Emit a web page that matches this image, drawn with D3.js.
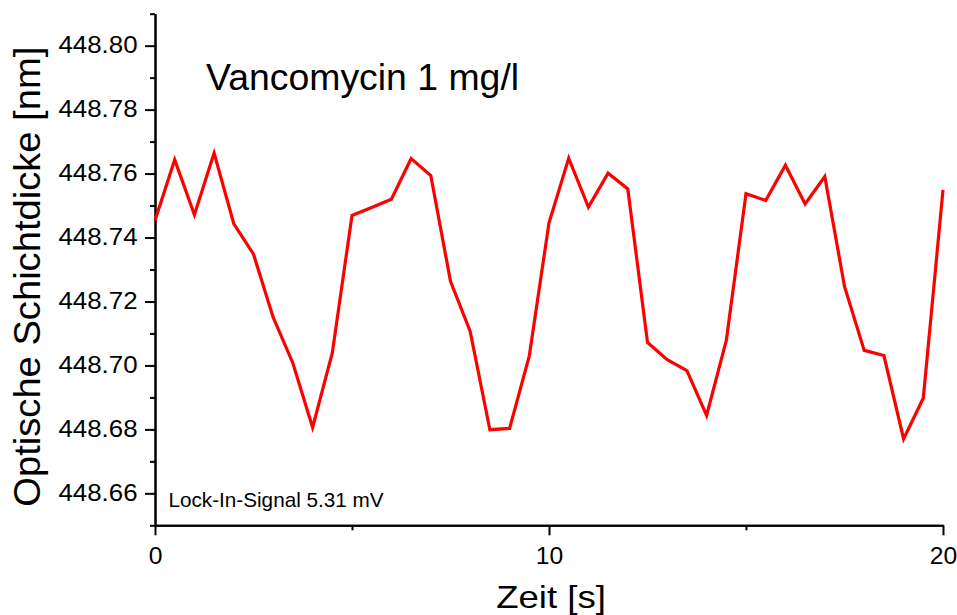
<!DOCTYPE html>
<html>
<head>
<meta charset="utf-8">
<script src="https://cdn.jsdelivr.net/npm/d3@7"></script>
<style>
  html, body { margin: 0; padding: 0; background: #fff; }
  svg { display: block; font-family: "Liberation Sans", Arial, Helvetica, sans-serif; }
</style>
</head>
<body>
<svg id="chart" width="957" height="615"></svg>
<script>
// Time axis (s) and measured optical layer thickness (nm)
const times = [0, 0.5, 1, 1.5, 2, 2.5, 3, 3.5, 4, 4.5, 5, 5.5, 6, 6.5, 7, 7.5, 8, 8.5, 9, 9.5,
               10, 10.5, 11, 11.5, 12, 12.5, 13, 13.5, 14, 14.5, 15, 15.5, 16, 16.5, 17, 17.5,
               18, 18.5, 19, 19.5, 20];
const thickness = [448.7453, 448.7643, 448.7471, 448.7664, 448.7443, 448.7348, 448.7150, 448.7007,
                   448.6806, 448.7039, 448.7469, 448.7494, 448.7520, 448.7647, 448.7594, 448.7263,
                   448.7106, 448.6799, 448.6803, 448.7030, 448.7446, 448.7648, 448.7495, 448.7601,
                   448.7552, 448.7072, 448.7018, 448.6984, 448.6844, 448.7078, 448.7537, 448.7516,
                   448.7626, 448.7505, 448.7591, 448.7247, 448.7047, 448.7031, 448.6770, 448.6898,
                   448.7549];

const xMajorTicks = [0, 10, 20];
const xMinorTicks = [5, 15];
const yMajorTicks = [448.66, 448.68, 448.70, 448.72, 448.74, 448.76, 448.78, 448.80];
const yMinorTicks = [448.65, 448.67, 448.69, 448.71, 448.73, 448.75, 448.77, 448.79, 448.81];

const titleText = "Vancomycin 1 mg/l";
const noteText = "Lock-In-Signal 5.31 mV";
const xLabel = "Zeit [s]";
const yLabel = "Optische Schichtdicke [nm]";

const svg = d3.select("#chart");
const plotLeft = 155, plotRight = 943, plotTop = 13.7, plotBottom = 525.3;

const x = d3.scaleLinear().domain([0, 20]).range([plotLeft, plotRight]);
const y = d3.scaleLinear().domain([448.65, 448.81]).range([plotBottom, plotTop]);

const axisColor = "#000";

// Y axis: minor ticks first, then major ticks with labels
const yMinor = svg.append("g").attr("transform", `translate(${plotLeft},0)`)
  .call(d3.axisLeft(y).tickValues(yMinorTicks).tickSize(5).tickSizeOuter(0).tickFormat(""));
const yMajor = svg.append("g").attr("transform", `translate(${plotLeft},0)`)
  .call(d3.axisLeft(y).tickValues(yMajorTicks).tickSize(10).tickSizeOuter(0).tickFormat(d3.format(".2f")));

// X axis
const xMinor = svg.append("g").attr("transform", `translate(0,${plotBottom})`)
  .call(d3.axisBottom(x).tickValues(xMinorTicks).tickSize(5).tickSizeOuter(0).tickFormat(""));
const xMajor = svg.append("g").attr("transform", `translate(0,${plotBottom})`)
  .call(d3.axisBottom(x).tickValues(xMajorTicks).tickSize(10).tickSizeOuter(0).tickFormat(d3.format("d")));

[yMinor, yMajor, xMinor, xMajor].forEach(g => {
  g.selectAll("path.domain").attr("stroke", axisColor).attr("stroke-width", 2);
  g.selectAll(".tick line").attr("stroke", axisColor).attr("stroke-width", 2);
});

yMajor.selectAll(".tick text")
  .attr("x", 0).attr("dy", null).attr("y", 0)
  .attr("text-anchor", "end")
  .attr("transform", "translate(-17.5,6.8) scale(1.1,1)")
  .attr("font-size", 23.5)
  .attr("font-family", "Liberation Sans, Arial, sans-serif")
  .attr("fill", "#000");

xMajor.selectAll(".tick text")
  .attr("x", 0).attr("dy", null).attr("y", 0)
  .attr("text-anchor", "middle")
  .attr("transform", "translate(0,38.2) scale(1.05,1)")
  .attr("font-size", 23.5)
  .attr("font-family", "Liberation Sans, Arial, sans-serif")
  .attr("fill", "#000");

// Data line
const line = d3.line()
  .x((d, i) => x(times[i]))
  .y(d => y(d));

svg.append("path")
  .datum(thickness)
  .attr("fill", "none")
  .attr("stroke", "#ff0000")
  .attr("stroke-width", 3.2)
  .attr("stroke-linejoin", "miter")
  .attr("d", line);

// Annotations
svg.append("text")
  .attr("transform", "translate(206,90) scale(1.025,1)")
  .attr("font-size", 36.5)
  .attr("fill", "#000")
  .text(titleText);

svg.append("text")
  .attr("x", 168.5).attr("y", 506.7)
  .attr("font-size", 20.7)
  .attr("fill", "#000")
  .text(noteText);

// Axis titles
svg.append("text")
  .attr("text-anchor", "middle")
  .attr("transform", "translate(551,608.3) scale(1.18,1)")
  .attr("font-size", 31)
  .attr("fill", "#000")
  .text(xLabel);

svg.append("text")
  .attr("text-anchor", "middle")
  .attr("transform", "translate(40,276.7) rotate(-90) scale(1.06,1)")
  .attr("font-size", 36)
  .attr("fill", "#000")
  .text(yLabel);
</script>
</body>
</html>
